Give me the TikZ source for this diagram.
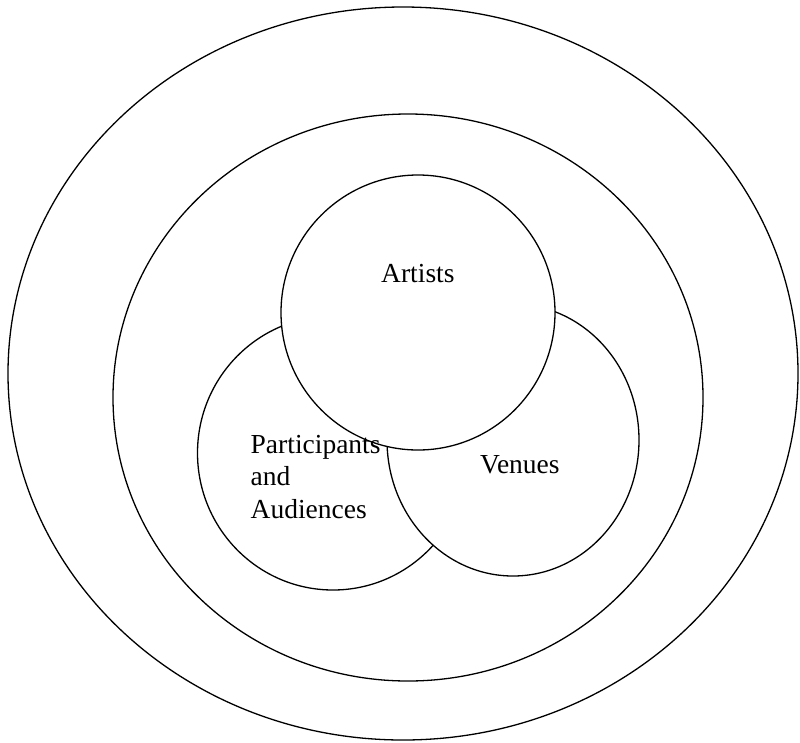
\documentclass[tikz,border=0pt]{standalone}
\usepackage{fontspec}
\setmainfont{Liberation Serif}
\usetikzlibrary{shapes.geometric}
\begin{document}
\begin{tikzpicture}[x=1pt,y=-1pt,
  ring/.style={draw=black, line width=1.3pt, ellipse, inner sep=0pt},
  setc/.style={draw=black, fill=white, line width=1.3pt, ellipse, inner sep=0pt},
  lbl/.style={font=\fontsize{27.5}{32.5}\selectfont, inner sep=0pt, anchor=base west, align=left}]
\useasboundingbox (0,0) rectangle (800,742);
\node[ring, minimum width=790pt, minimum height=733pt] (outer) at (403,373.5) {};
\node[ring, minimum width=590pt, minimum height=567pt] (inner) at (408,397.5) {};
\node[setc, minimum width=271pt, minimum height=274pt] (part) at (333,453) {};
\node[setc, minimum width=252pt, minimum height=272pt] (venues) at (513,440) {};
\node[setc, minimum width=274pt, minimum height=275pt] (artists) at (418,312.5) {};
\node[lbl] (tA) at (381,282) {Artists};
\node[lbl] (tV) at (480,473) {Venues};
\node[lbl] (tP) at (250.5,518) {Participants\\and\\Audiences};
\end{tikzpicture}
\end{document}
